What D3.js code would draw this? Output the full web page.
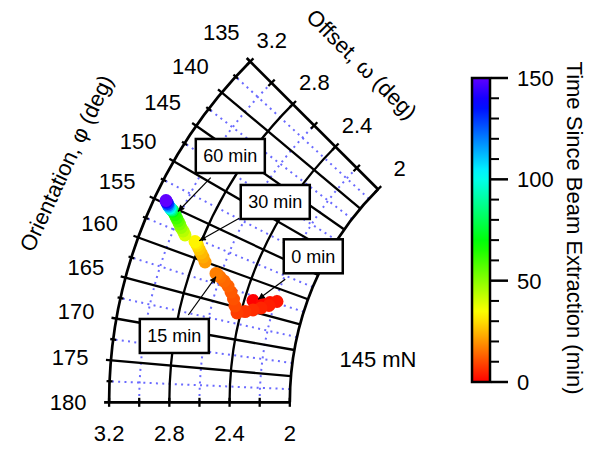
<!DOCTYPE html>
<html>
<head>
<meta charset="utf-8">
<script src="https://cdn.jsdelivr.net/npm/d3@7"></script>
<style>
  body { margin: 0; background: #fff; }
  text { font-family: "Liberation Sans", Arial, sans-serif; fill: #000; }
</style>
</head>
<body>
<div id="chart"></div>
<script>
// trajectory: time since beam extraction (min), orientation phi (deg), offset omega (deg)
var timeMin = [0, 1, 2, 3, 4, 5, 6, 7, 8, 10, 11, 12, 13, 14, 15, 16, 17,
  21, 23, 25, 27, 29, 31, 33,
  40, 44, 48, 52, 56, 60, 64, 70, 80, 90, 100, 110, 120, 130, 140, 150];
var orientation = [163.24, 163.28, 162.73, 162.20, 163.27, 164.05, 164.73, 165.30, 165.84, 164.86, 163.88, 162.97, 162.23, 161.71, 161.34, 161.11, 161.04,
  160.02, 159.47, 159.05, 158.64, 158.27, 158.04, 157.90,
  157.60, 157.22, 156.91, 156.57, 156.30, 156.03, 155.71, 155.41, 155.35, 155.29, 155.22, 155.11, 155.00, 154.85, 154.74, 154.60];
var offset = [2.344, 2.281, 2.232, 2.190, 2.233, 2.279, 2.327, 2.375, 2.424, 2.449, 2.471, 2.500, 2.531, 2.566, 2.600, 2.621, 2.633,
  2.727, 2.751, 2.773, 2.795, 2.813, 2.828, 2.838,
  2.916, 2.938, 2.960, 2.978, 2.995, 3.012, 3.031, 3.052, 3.061, 3.070, 3.079, 3.089, 3.099, 3.106, 3.117, 3.124];

// axis ticks
var phiMajor = [135, 140, 145, 150, 155, 160, 165, 170, 175, 180];
var phiMinor = [137.5, 142.5, 147.5, 152.5, 157.5, 162.5, 167.5, 172.5, 177.5];
var omegaMajor = [2, 2.4, 2.8, 3.2];
var omegaMinor = [2.2, 2.6, 3.0];
var omegaTicks = [2, 2.2, 2.4, 2.6, 2.8, 3.0, 3.2];
var omegaLabels = ["3.2", "2.8", "2.4", "2"];
var colorTicks = [0, 50, 100, 150];
var colorMinor = [10, 20, 30, 40, 60, 70, 80, 90, 110, 120, 130, 140];

// annotations (text, arrow tip in data coords)
var noteText = ["0 min", "15 min", "30 min", "60 min"];
var notePhi = [162.8, 161.48, 157.58, 155.20];
var noteOmega = [2.313, 2.626, 2.814, 3.021];
// box centre and arrow tail, pixel offsets from the tip
var noteBox = [[55, -43], [-41.7, 59.3], [76, -38.7], [52.3, -55.5]];
var noteTail = [[27, -20], [-27.7, 38.3], [40, -22.4], [32.7, -33.8]];

var svgWidth = 601, svgHeight = 449;
var svg = d3.select("#chart").append("svg")
  .attr("width", svgWidth)
  .attr("height", svgHeight);

// polar geometry
var cx = 591, cy = 402.3;
var rScale = d3.scaleLinear().domain([0, 3.2]).range([0, 481.9]);
var aScale = d3.scaleLinear().domain([0, 180]).range([0, Math.PI]);

function pos(phi, om, extra) {
  var r = rScale(om) + (extra || 0);
  var a = aScale(phi);
  return [cx + r * Math.cos(a), cy - r * Math.sin(a)];
}

function arcPath(om) {
  var p = d3.path();
  p.arc(cx, cy, rScale(om), -aScale(180), -aScale(135), false);
  return p.toString();
}

function radialPath(phi, om0, om1, ext) {
  var p = d3.path();
  var a = pos(phi, om0), b = pos(phi, om1, ext);
  p.moveTo(a[0], a[1]);
  p.lineTo(b[0], b[1]);
  return p.toString();
}

var colorScale = d3.scaleSequential(function(t) { return d3.hsl(t * 262.5, 1, 0.5) + ""; })
  .domain([0, 150]);

var grid = svg.append("g");

// dotted minor grid
var dotted = "#6a6aff";
grid.selectAll(".minorArc")
  .data(omegaMinor)
  .enter()
  .append("path")
  .attr("d", d => arcPath(d))
  .attr("fill", "none")
  .attr("stroke", dotted)
  .attr("stroke-width", 2)
  .attr("stroke-dasharray", "2,4.3");

grid.selectAll(".minorRad")
  .data(phiMinor)
  .enter()
  .append("path")
  .attr("d", d => radialPath(d, 2, 3.2, 0))
  .attr("fill", "none")
  .attr("stroke", dotted)
  .attr("stroke-width", 2)
  .attr("stroke-dasharray", "2,4.3");

// solid major grid
grid.selectAll(".majorArc")
  .data(omegaMajor)
  .enter()
  .append("path")
  .attr("d", d => arcPath(d))
  .attr("fill", "none")
  .attr("stroke", "#000")
  .attr("stroke-width", d => (d === 2 || d === 3.2) ? 2.7 : 2.3);

grid.selectAll(".majorRad")
  .data(phiMajor)
  .enter()
  .append("path")
  .attr("d", d => radialPath(d, 2, 3.2, 5))
  .attr("fill", "none")
  .attr("stroke", "#000")
  .attr("stroke-width", d => (d === 135 || d === 180) ? 2.7 : 2.3);

// minor ticks across the outer arc
grid.selectAll(".phiMinorTick")
  .data(phiMinor)
  .enter()
  .append("line")
  .attr("x1", d => pos(d, 3.2, -3)[0])
  .attr("y1", d => pos(d, 3.2, -3)[1])
  .attr("x2", d => pos(d, 3.2, 3)[0])
  .attr("y2", d => pos(d, 3.2, 3)[1])
  .attr("stroke", "#000")
  .attr("stroke-width", 2.3);

// offset ticks across the 135 and 180 lines
[135, 180].forEach(function(phi) {
  var a = aScale(phi);
  var nx = -Math.sin(a), ny = -Math.cos(a);
  grid.selectAll(".omTick" + phi)
    .data(omegaTicks)
    .enter()
    .append("line")
    .attr("x1", d => pos(phi, d)[0] - 4.5 * nx)
    .attr("y1", d => pos(phi, d)[1] - 4.5 * ny)
    .attr("x2", d => pos(phi, d)[0] + 4.5 * nx)
    .attr("y2", d => pos(phi, d)[1] + 4.5 * ny)
    .attr("stroke", "#000")
    .attr("stroke-width", 2.3);
});

// orientation labels
svg.selectAll(".phiLabel")
  .data(phiMajor)
  .enter()
  .append("text")
  .attr("x", d => pos(d, 3.2, 41)[0])
  .attr("y", d => pos(d, 3.2, 41)[1])
  .attr("dy", "0.36em")
  .attr("text-anchor", "middle")
  .attr("font-size", "22px")
  .text(d => d);

// offset labels along the bottom
svg.selectAll(".omBottom")
  .data(omegaLabels)
  .enter()
  .append("text")
  .attr("x", d => pos(180, +d)[0])
  .attr("y", d => pos(180, +d)[1] + 31)
  .attr("dy", "0.36em")
  .attr("text-anchor", "middle")
  .attr("font-size", "22px")
  .text(d => d);

// offset labels along the 135 line
svg.selectAll(".omTop")
  .data(omegaLabels)
  .enter()
  .append("text")
  .attr("x", d => pos(135, +d)[0] + 30.5 * Math.SQRT1_2)
  .attr("y", d => pos(135, +d)[1] - 30.5 * Math.SQRT1_2)
  .attr("dy", "0.36em")
  .attr("text-anchor", "middle")
  .attr("font-size", "22px")
  .text(d => d);

// axis titles
svg.append("text")
  .attr("transform", "translate(66,163) rotate(-65)")
  .attr("dy", "0.36em")
  .attr("text-anchor", "middle")
  .attr("font-size", "22px")
  .text("Orientation, \u03c6 (deg)");

svg.append("text")
  .attr("transform", "translate(362,64) rotate(45)")
  .attr("dy", "0.36em")
  .attr("text-anchor", "middle")
  .attr("font-size", "22px")
  .text("Offset, \u03c9 (deg)");

svg.append("text")
  .attr("x", 378)
  .attr("y", 359)
  .attr("dy", "0.36em")
  .attr("text-anchor", "middle")
  .attr("font-size", "22px")
  .text("145 mN");

// trajectory
var points = timeMin.map(function(t, i) {
  return { t: t, phi: orientation[i], om: offset[i] };
});

svg.append("g").selectAll("circle")
  .data(points)
  .enter()
  .append("circle")
  .attr("cx", d => pos(d.phi, d.om)[0])
  .attr("cy", d => pos(d.phi, d.om)[1])
  .attr("r", 6.5)
  .attr("fill", d => colorScale(d.t));

// annotations
svg.append("defs").append("marker")
  .attr("id", "head")
  .attr("viewBox", "0 0 10 10")
  .attr("refX", 10)
  .attr("refY", 5)
  .attr("markerWidth", 9)
  .attr("markerHeight", 6.5)
  .attr("markerUnits", "userSpaceOnUse")
  .attr("orient", "auto")
  .append("path")
  .attr("d", "M0,0L10,5L0,10Z")
  .attr("fill", "#000");

var notes = svg.append("g");
noteText.forEach(function(label, i) {
  var tip = pos(notePhi[i], noteOmega[i]);
  notes.append("line")
    .attr("x1", tip[0] + noteTail[i][0])
    .attr("y1", tip[1] + noteTail[i][1])
    .attr("x2", tip[0])
    .attr("y2", tip[1])
    .attr("stroke", "#000")
    .attr("stroke-width", 1.2)
    .attr("marker-end", "url(#head)");

  var g = notes.append("g")
    .attr("transform", `translate(${tip[0] + noteBox[i][0]}, ${tip[1] + noteBox[i][1]})`);
  var rect = g.append("rect").attr("fill", "#fff").attr("stroke", "#000").attr("stroke-width", 2.5);
  var txt = g.append("text")
    .attr("text-anchor", "middle")
    .attr("dy", "0.36em")
    .attr("font-size", "18px")
    .text(label);
  var w = txt.node().getComputedTextLength() + 15;
  rect.attr("x", -w / 2).attr("y", -17).attr("width", w).attr("height", 34);
});

// colour bar
var cbY = d3.scaleLinear().domain([0, 150]).range([382, 78]);
var grad = svg.select("defs").append("linearGradient")
  .attr("id", "rainbow")
  .attr("x1", 0).attr("y1", 1).attr("x2", 0).attr("y2", 0);
grad.selectAll("stop")
  .data(d3.range(0, 151, 5))
  .enter()
  .append("stop")
  .attr("offset", d => d / 150)
  .attr("stop-color", d => colorScale(d));

svg.append("rect")
  .attr("x", 472)
  .attr("y", cbY(150))
  .attr("width", 18)
  .attr("height", cbY(0) - cbY(150))
  .attr("fill", "url(#rainbow)")
  .attr("stroke", "#000")
  .attr("stroke-width", 2.5);

svg.selectAll(".cbMajor")
  .data(colorTicks)
  .enter()
  .append("line")
  .attr("x1", 491).attr("x2", 508)
  .attr("y1", d => cbY(d)).attr("y2", d => cbY(d))
  .attr("stroke", "#000").attr("stroke-width", 2.5);

svg.selectAll(".cbMinor")
  .data(colorMinor)
  .enter()
  .append("line")
  .attr("x1", 491).attr("x2", 499)
  .attr("y1", d => cbY(d)).attr("y2", d => cbY(d))
  .attr("stroke", "#000").attr("stroke-width", 2);

svg.selectAll(".cbLabel")
  .data(colorTicks)
  .enter()
  .append("text")
  .attr("x", 517)
  .attr("y", d => cbY(d))
  .attr("dy", "0.36em")
  .attr("font-size", "22px")
  .text(d => d);

svg.append("text")
  .attr("transform", "translate(575,228) rotate(90)")
  .attr("dy", "0.36em")
  .attr("text-anchor", "middle")
  .attr("font-size", "22px")
  .text("Time Since Beam Extraction (min)");
</script>
</body>
</html>
